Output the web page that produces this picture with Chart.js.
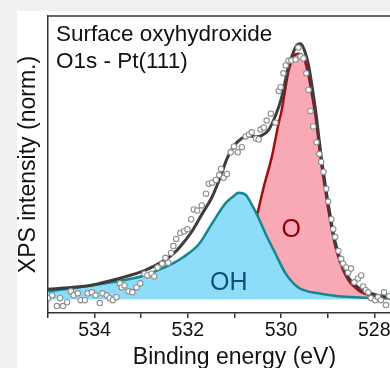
<!DOCTYPE html>
<html>
<head>
<meta charset="utf-8">
<script src="https://cdn.jsdelivr.net/npm/chart.js@4.4.1/dist/chart.umd.min.js"></script>
<style>
  html, body { margin: 0; padding: 0; background: #f0f0f0; overflow: hidden; width: 390px; height: 368px; }
  #frame { position: absolute; left: 17px; top: 11px; width: 420px; height: 357px; background: #fff; }
  canvas { display: block; }
</style>
</head>
<body>
<div id="frame"><canvas id="chart" width="409" height="357"></canvas></div>
<script>
// measured spectrum (open circles)
const pointEnergy = [535.00, 534.91, 534.81, 534.74, 534.68, 534.59, 534.51, 534.45, 534.36, 534.30,
    534.21, 534.15, 534.06, 533.98, 533.89, 533.83, 533.74, 533.68, 533.61, 533.53,
    533.46, 533.42, 533.36, 533.27, 533.19, 533.10, 533.02, 532.93, 532.87, 532.78,
    532.72, 532.65, 532.55, 532.48, 532.42, 532.36, 532.31, 532.25, 532.16, 532.08,
    532.01, 531.93, 531.87, 531.80, 531.70, 531.61, 531.55, 531.48, 531.40, 531.33,
    531.29, 531.23, 531.16, 531.08, 531.01, 530.93, 530.84, 530.76, 530.69, 530.63,
    530.54, 530.48, 530.44, 530.37, 530.31, 530.22, 530.12, 530.05, 530.01, 529.95,
    529.90, 529.84, 529.78, 529.69, 529.63, 529.58, 529.52, 529.46, 529.41, 529.37,
    529.31, 529.24, 529.18, 529.14, 529.09, 529.03, 528.99, 528.92, 528.88, 528.84,
    528.77, 528.71, 528.67, 528.60, 528.56, 528.50, 528.43, 528.35, 528.28, 528.24,
    528.18, 528.13, 528.07, 527.98, 527.92, 527.86, 527.79, 527.75, 527.68, 527.60]
const pointIntensity = [0.004, 0.015, -0.027, 0.004, -0.027, -0.012, 0.031, 0.015, 0.023, -0.004,
    -0.004, 0.023, 0.027, 0.015, -0.015, 0.023, 0.015, 0.004, -0.004, 0.008,
    0.062, 0.046, 0.054, 0.031, 0.027, 0.046, 0.062, 0.100, 0.093, 0.100,
    0.089, 0.124, 0.139, 0.162, 0.143, 0.181, 0.208, 0.236, 0.259, 0.266,
    0.274, 0.313, 0.351, 0.347, 0.367, 0.413, 0.452, 0.456, 0.467, 0.486,
    0.510, 0.475, 0.490, 0.575, 0.598, 0.575, 0.595, 0.637, 0.645, 0.653,
    0.629, 0.625, 0.664, 0.672, 0.699, 0.726, 0.691, 0.815, 0.830, 0.884,
    0.915, 0.934, 0.934, 0.938, 0.985, 0.950, 0.942, 0.884, 0.819, 0.737,
    0.676, 0.614, 0.568, 0.537, 0.498, 0.432, 0.382, 0.313, 0.274, 0.243,
    0.189, 0.158, 0.139, 0.124, 0.104, 0.120, 0.066, 0.081, 0.093, 0.050,
    0.035, 0.027, 0.004, -0.004, 0.008, -0.004, 0.027, -0.023, 0.012, 0.000]

// fit envelope
const totalEnergy = [535.00, 534.50, 534.10, 533.64, 533.25, 532.93, 532.51, 532.29, 532.10, 531.91,
    531.70, 531.48, 531.29, 531.16, 531.01, 530.84, 530.69, 530.54, 530.42, 530.27,
    530.12, 529.99, 529.84, 529.73, 529.65, 529.58, 529.50, 529.41, 529.35, 529.26,
    529.20, 529.14, 529.07, 528.99, 528.84, 528.62, 528.35, 528.07, 527.71, 527.00]
const totalIntensity = [0.039, 0.046, 0.054, 0.073, 0.093, 0.112, 0.151, 0.181, 0.220, 0.266,
    0.332, 0.400, 0.484, 0.550, 0.600, 0.630, 0.640, 0.636, 0.640, 0.662,
    0.718, 0.788, 0.911, 0.969, 0.996, 1.000, 0.975, 0.915, 0.850, 0.740,
    0.650, 0.560, 0.470, 0.375, 0.225, 0.105, 0.046, 0.023, 0.008, 0.004]

// OH component
const ohEnergy = [535.00, 534.36, 533.64, 532.93, 532.51, 532.29, 532.12, 531.76, 531.48, 531.18,
    531.01, 530.91, 530.76, 530.63, 530.48, 530.33, 530.12, 529.90, 529.63, 529.20,
    528.77, 527.71, 527.00]
const ohIntensity = [0.031, 0.046, 0.066, 0.093, 0.124, 0.143, 0.162, 0.216, 0.297, 0.378,
    0.405, 0.417, 0.409, 0.371, 0.317, 0.255, 0.178, 0.100, 0.046, 0.023,
    0.012, 0.004, 0.002]

// O component
const oEnergy = [535.00, 532.00, 531.50, 531.00, 530.75, 530.60, 530.52, 530.37, 530.20, 530.05,
    529.99, 529.84, 529.73, 529.63, 529.56, 529.50, 529.41, 529.35, 529.26, 529.20,
    529.14, 529.07, 528.99, 528.84, 528.62, 528.35, 528.07, 527.71, 527.00]
const oIntensity = [0.020, 0.030, 0.045, 0.100, 0.180, 0.260, 0.324, 0.440, 0.556, 0.691,
    0.737, 0.892, 0.950, 0.961, 0.958, 0.940, 0.876, 0.815, 0.715, 0.625,
    0.535, 0.450, 0.355, 0.210, 0.095, 0.036, 0.015, 0.004, 0.002]

const fontFamily = '"Liberation Sans", Arial, sans-serif';

function toXY(xs, ys) {
    return xs.map((x, i) => ({ x: x, y: ys[i] }));
}

// box top line + text labels
const annotations = {
    id: 'annotations',
    afterDatasetsDraw(chart) {
        const { ctx, chartArea, scales: { x, y } } = chart;
        ctx.save();
        ctx.strokeStyle = '#333';
        ctx.lineWidth = 1.5;
        ctx.beginPath();
        ctx.moveTo(chartArea.left, chartArea.top);
        ctx.lineTo(chartArea.right, chartArea.top);
        ctx.stroke();

        ctx.fillStyle = '#111';
        ctx.font = '22.5px ' + fontFamily;
        ctx.textBaseline = 'alphabetic';
        ctx.fillText('Surface oxyhydroxide', chartArea.left + 8, chartArea.top + 25);
        ctx.fillText('O1s - Pt(111)', chartArea.left + 8, chartArea.top + 52);

        ctx.font = '25px ' + fontFamily;
        ctx.textAlign = 'center';
        ctx.textBaseline = 'middle';
        ctx.fillStyle = '#8b0000';
        ctx.fillText('O', x.getPixelForValue(529.78), y.getPixelForValue(0.27));
        ctx.fillStyle = '#124d7a';
        ctx.fillText('OH', x.getPixelForValue(531.12), y.getPixelForValue(0.062));
        ctx.restore();
    }
};

const config = {
    type: 'scatter',
    data: {
        datasets: [{
            label: 'Data',
            data: toXY(pointEnergy, pointIntensity),
            pointRadius: 2.7,
            pointBorderWidth: 1.1,
            pointBorderColor: '#8f8f8f',
            pointBackgroundColor: '#ffffff',
            order: 0
        }, {
            label: 'Fit',
            data: toXY(totalEnergy, totalIntensity),
            showLine: true,
            pointRadius: 0,
            borderColor: '#3d3d3d',
            borderWidth: 3,
            cubicInterpolationMode: 'monotone',
            order: 1
        }, {
            label: 'OH',
            data: toXY(ohEnergy, ohIntensity),
            showLine: true,
            pointRadius: 0,
            borderColor: '#15878e',
            borderWidth: 2.5,
            backgroundColor: '#8ddcf9',
            fill: 'origin',
            cubicInterpolationMode: 'monotone',
            order: 2
        }, {
            label: 'O',
            data: toXY(oEnergy, oIntensity),
            showLine: true,
            pointRadius: 0,
            borderColor: '#a00f0f',
            borderWidth: 2.5,
            backgroundColor: '#f8a9b5',
            fill: 'origin',
            cubicInterpolationMode: 'monotone',
            order: 3
        }]
    },
    options: {
        responsive: false,
        animation: false,
        layout: { padding: { top: 1, right: 1, left: 0, bottom: 0 } },
        plugins: {
            legend: { display: false },
            tooltip: { enabled: false }
        },
        scales: {
            x: {
                type: 'linear',
                reverse: true,
                min: 527,
                max: 535,
                afterFit(scale) { scale.height = 55; },
                border: { display: true, color: '#333', width: 1.5 },
                grid: { display: true, drawOnChartArea: false, drawTicks: true, tickLength: 5, color: '#333', lineWidth: 1.5 },
                ticks: {
                    stepSize: 1,
                    autoSkip: false,
                    maxRotation: 0,
                    padding: 1,
                    color: '#111',
                    font: { family: fontFamily, size: 19.5 },
                    callback: v => (v % 2 === 0 ? String(v) : '')
                },
                title: {
                    display: true,
                    text: 'Binding energy (eV)',
                    color: '#111',
                    padding: 0,
                    font: { family: fontFamily, size: 23, lineHeight: 0.9 }
                }
            },
            y: {
                min: -0.054,
                max: 1.108,
                afterFit(scale) { scale.width = 31; },
                border: { display: true, color: '#333', width: 1.5 },
                grid: { display: false },
                ticks: { display: false },
                title: {
                    display: true,
                    text: 'XPS intensity (norm.)',
                    color: '#111',
                    padding: 0,
                    font: { family: fontFamily, size: 23, lineHeight: 1.0 }
                }
            }
        }
    },
    plugins: [annotations]
};

const myChart = new Chart(document.getElementById('chart'), config);
</script>
</body>
</html>
